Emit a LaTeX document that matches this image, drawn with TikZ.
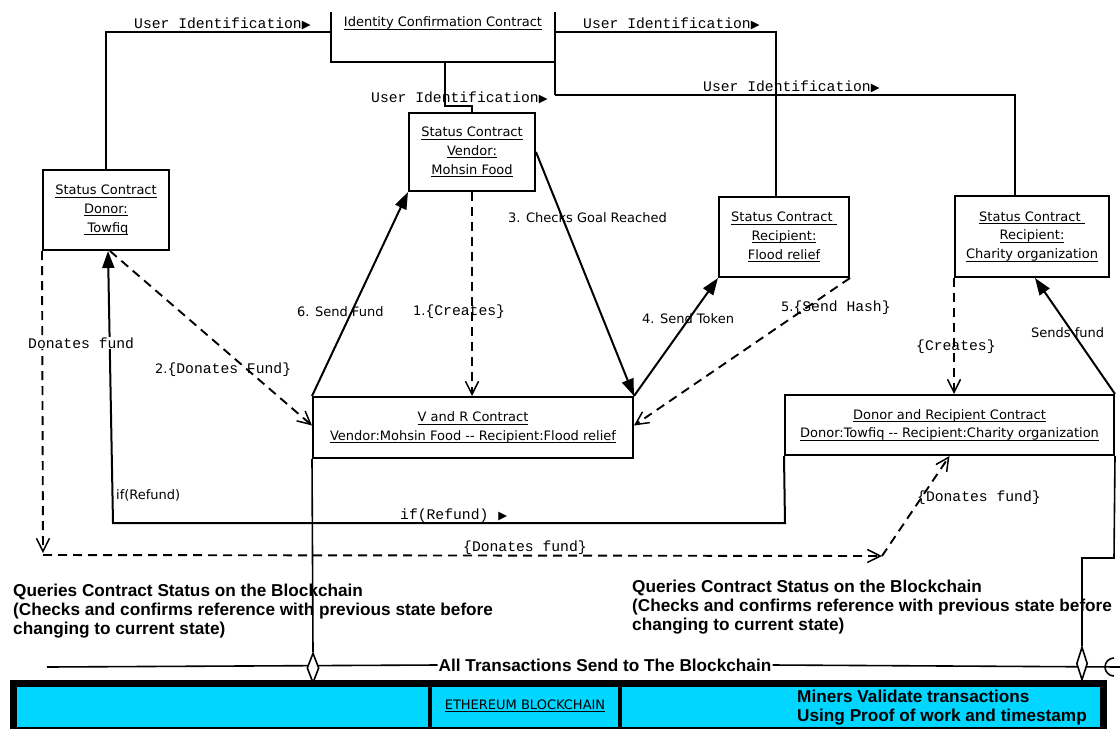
\documentclass[tikz,border=0pt]{standalone}
\usepackage{fontspec}
\setmainfont{DejaVu Sans}
\newfontfamily\monof{Liberation Mono}
\newfontfamily\arialf{Liberation Sans}
\newfontfamily\djv{DejaVu Sans}
\usetikzlibrary{arrows.meta,shapes.geometric}
\definecolor{cyanbar}{RGB}{0,214,255}
\newsavebox\ulbox
\newcommand{\uln}[1]{\sbox\ulbox{#1}\rlap{\rule[-2.8pt]{\wd\ulbox}{0.8pt}}\usebox\ulbox}
\newcommand{\tri}{{\djv\fontsize{11.5}{11.5}\selectfont ▶}}
\newcommand{\mt}[1]{{\monof\fontsize{14.7}{16}\selectfont #1}}
\tikzset{
 box/.style={draw, line width=2pt, align=center, inner sep=0pt, font=\fontsize{13}{18.6}\selectfont},
 ln/.style={line width=2pt},
 thinln/.style={line width=1.6pt},
 dsh/.style={line width=1.9pt, dash pattern=on 9pt off 6pt},
 filled/.style={-{Triangle[length=17pt,width=12pt]}},
 openarr/.style={-{Straight Barb[length=13pt,width=13pt,line width=1.5pt]}},
 lbl/.style={inner sep=0pt, anchor=west, font=\fontsize{13}{15}\selectfont},
 mlbl/.style={inner sep=0pt, anchor=west, font=\monof\fontsize{14.7}{16}\selectfont},
 boldtxt/.style={inner sep=0pt, font=\arialf\bfseries\fontsize{17.2}{19}\selectfont, align=left},
}
\begin{document}
\begin{tikzpicture}[x=1pt,y=-1pt]
\useasboundingbox (0,0) rectangle (1120,729);

% Identity confirmation contract (top edge outside picture)
\coordinate (idTL) at (331,12);
\coordinate (idBL) at (331,62);
\coordinate (idBR) at (555,62);
\coordinate (idTR) at (555,12);
\coordinate (idR2) at (555,95);
\draw[ln] (idTL) -- (idBL) -- (idBR);
\draw[ln] (idTR) -- (idR2);
\node[inner sep=0pt, font=\fontsize{13}{15}\selectfont] (idc) at (443,23) {\uln{Identity Confirmation Contract}};

% boxes
\node[box, minimum width=126pt, minimum height=80pt] (donor) at (106,210) {\uln{Status Contract}\\\uln{Donor:}\\\uln{~Towfiq}};
\node[box, minimum width=126pt, minimum height=78pt] (vendor) at (472,152) {\uln{Status Contract}\\\uln{Vendor:}\\\uln{Mohsin Food}};
\node[box, minimum width=130pt, minimum height=80pt] (flood) at (784,237) {\uln{Status Contract~}\\\uln{Recipient:}\\\uln{Flood relief}};
\node[box, minimum width=154pt, minimum height=81pt] (charity) at (1032,236.5) {\uln{Status Contract~}\\\uln{Recipient:}\\\uln{Charity organization}};
\node[box, minimum width=320pt, minimum height=61pt] (vr) at (473,427.5) {\uln{V and R Contract}\\\uln{Vendor:Mohsin Food -{}- Recipient:Flood relief}};
\node[box, minimum width=329pt, minimum height=60pt] (dr) at (949.5,425) {\uln{Donor and Recipient Contract}\\\uln{Donor:Towfiq -{}- Recipient:Charity organization}};

% identification lines
\coordinate (idL) at (331,32);
\coordinate (idB) at (445,62);
\coordinate (idR1) at (555,32);
\draw[ln] (idL) -| (donor.north);
\draw[ln] (idB) -- (445,106) -| (vendor.north);
\draw[ln] (idR1) -| ([xshift=-8pt]flood.north);
\draw[ln] (idR2) -| ([xshift=-17pt]charity.north);

% connectors
\draw[dsh, openarr] (vendor.south) -- (vendor.south |- vr.north);
\draw[dsh, openarr] ([xshift=4pt]donor.south) -- ([yshift=2pt]vr.west);
\draw[ln, filled] (vr.north west) -- (vendor.south west);
\draw[ln, filled] (vendor.east) -- (vr.north east);
\draw[ln, filled] (vr.north east) -- (flood.south west);
\draw[dsh, openarr] (flood.south east) -- ([yshift=2pt]vr.east);
\draw[dsh, openarr] (charity.south west) -- (charity.south west |- dr.north);
\draw[ln, filled] (dr.north east) -- ([xshift=3pt]charity.south);

\coordinate (dc) at (43,555);
\coordinate (dm) at (882,556);
\draw[dsh, openarr] (donor.south west) -- ([yshift=2pt]dc);
\draw[dsh, openarr] (dc) -- (dm);
\draw[dsh, openarr] (dm) -- (dr.south);

\coordinate (rf1) at (785,523);
\coordinate (rf2) at (113,523);
\draw[ln, filled] (dr.south west) -- (rf1) -- (rf2) -- ([xshift=2pt]donor.south);

% bottom texts
\node[boldtxt, anchor=west] (q1) at (13,611) {Queries Contract Status on the Blockchain\\(Checks and confirms reference with previous state before\\changing to current state)};
\node[boldtxt, anchor=west] (q2) at (632,607) {Queries Contract Status on the Blockchain\\(Checks and confirms reference with previous state before\\changing to current state)};

% transaction line
\node[boldtxt, fill=white, inner xsep=1pt] (alltx) at (605,665) {All Transactions Send to The Blockchain};
\coordinate (txL) at (47,667);
\coordinate (txR) at (1120,667);
\draw[thinln] (txL) -- (alltx.west);
\draw[thinln] (alltx.east) -- (txR);
\draw[thinln] (1114,676) arc[start angle=90, end angle=270, radius=9];

% blockchain bar
\fill[black] (10,680) rectangle (1107,729);
\fill[cyanbar] (17,687) rectangle (428,727);
\fill[cyanbar] (432,687) rectangle (618,727);
\fill[cyanbar] (622,687) rectangle (1100,727);
\node[inner sep=0pt, font=\fontsize{13}{15}\selectfont] (eth) at (525,706) {\uln{ETHEREUM BLOCKCHAIN}};
\node[boldtxt, anchor=west] (miners) at (797,707.5) {Miners Validate transactions\\Using Proof of work and timestamp};

% diamonds and lines to the chain
\node[diamond, draw, fill=white, thinln, minimum width=12pt, minimum height=30pt, inner sep=0pt] (dia1) at (313,668) {};
\node[diamond, draw, fill=white, thinln, minimum width=11pt, minimum height=33pt, inner sep=0pt] (dia2) at (1082,663.5) {};
\coordinate (ch1) at (313,687);
\coordinate (ch2) at (1082,687);
\coordinate (st2) at (1114,558);
\draw[thinln] (vr.south west) -- (dia1.north);
\draw[thinln] (dia1.south) -- (ch1);
\draw[thinln] (dr.south east) -- (st2) -| (dia2.north);
\draw[thinln] (dia2.south) -- (ch2);

% labels
\node[mlbl] (u1) at (134,24) {User Identification\tri};
\node[mlbl] (u2) at (583,24) {User Identification\tri};
\node[mlbl] (u3) at (371,98) {User Identification\tri};
\node[mlbl] (u4) at (703,87) {User Identification\tri};

\node[lbl] (l1) at (413,312) {1.\mt{\{Creates\}}};
\node[lbl] (l2) at (155,370) {2.\mt{\{Donates Fund\}}};
\node[lbl] (l6) at (297,312) {6. Send Fund};
\node[lbl] (l3) at (508,218) {3. Checks Goal Reached};
\node[lbl] (l4) at (642,319) {4. Send Token};
\node[lbl] (l5) at (781,308) {5.\mt{\{Send Hash\}}};
\node[mlbl] (lc) at (916,347) {\{Creates\}};
\node[lbl] (ls) at (1031,333) {Sends fund};
\node[mlbl, fill=white, inner sep=1pt] (ld) at (27,343) {Donates fund};
\node[lbl] (lr1) at (116,495) {if(Refund)};
\node[mlbl] (lr2) at (400,516) {if(Refund)\hspace{10pt}\tri};
\node[mlbl] (ldf1) at (463,548) {\{Donates fund\}};
\node[mlbl] (ldf2) at (917,498) {\{Donates fund\}};
\end{tikzpicture}
\end{document}
